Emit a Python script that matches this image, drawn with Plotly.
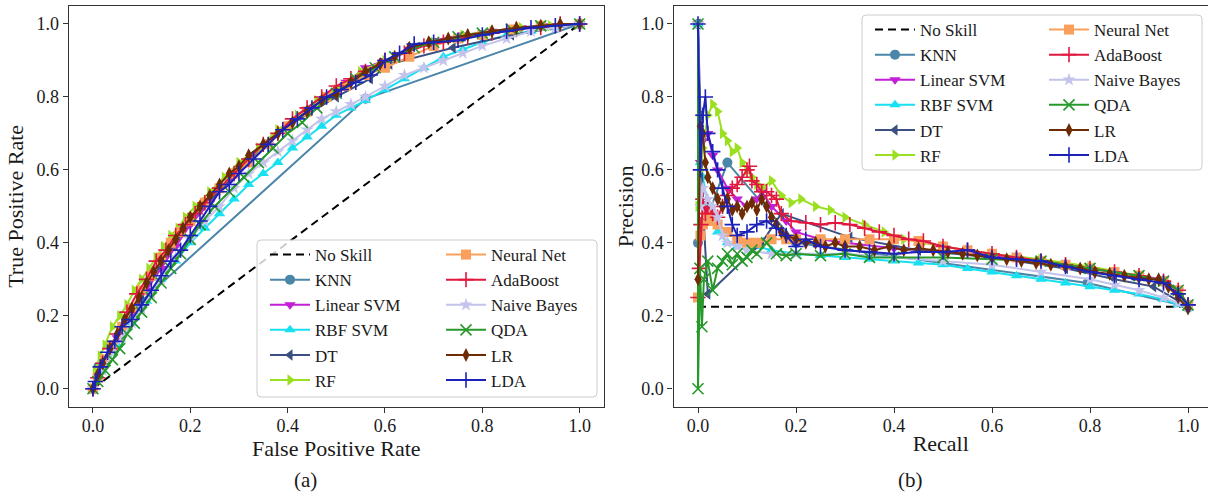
import plotly.graph_objects as go

# ---------------- data ----------------
names = ["KNN", "Linear SVM", "RBF SVM", "DT", "RF", "Neural Net",
         "AdaBoost", "Naive Bayes", "QDA", "LR", "LDA"]

noskill_roc_x = [0.0, 1.0]
noskill_roc_y = [0.0, 1.0]
noskill_pr_x = [0.0, 1.0]
noskill_pr_y = [0.225, 0.225]

# ROC curves (false positive rate, true positive rate)
knn_fpr = [0.0, 0.011, 0.10, 0.56, 1.0]
knn_tpr = [0.0, 0.06, 0.24, 0.795, 1.0]

lsvm_fpr = [0.0, 0.02, 0.05, 0.08, 0.11, 0.14, 0.17, 0.2, 0.24, 0.28, 0.32, 0.36, 0.4, 0.44, 0.48, 0.52, 0.56, 0.6, 0.65, 0.7, 0.76, 0.82, 0.88, 0.94, 1.0]
lsvm_tpr = [0.0, 0.06, 0.14, 0.21, 0.27, 0.33, 0.39, 0.45, 0.51, 0.57, 0.62, 0.67, 0.72, 0.76, 0.8, 0.84, 0.88, 0.9, 0.93, 0.955, 0.97, 0.98, 0.99, 0.995, 1.0]

rbf_fpr = [0.0, 0.02, 0.05, 0.08, 0.11, 0.14, 0.17, 0.2, 0.23, 0.26, 0.29, 0.32, 0.35, 0.38, 0.41, 0.44, 0.47, 0.5, 0.53, 0.56, 0.6, 0.64, 0.68, 0.72, 0.76, 0.8, 0.85, 0.9, 0.95, 1.0]
rbf_tpr = [0.0, 0.05, 0.12, 0.18, 0.24, 0.3, 0.35, 0.4, 0.44, 0.48, 0.52, 0.56, 0.59, 0.62, 0.66, 0.69, 0.72, 0.75, 0.77, 0.79, 0.82, 0.85, 0.88, 0.91, 0.93, 0.95, 0.97, 0.98, 0.99, 1.0]

dt_fpr = [0.0, 0.02, 0.1, 0.2, 0.3, 0.4, 0.5, 0.57, 0.61, 0.74, 0.86, 1.0]
dt_tpr = [0.0, 0.07, 0.26, 0.46, 0.6, 0.72, 0.8, 0.85, 0.89, 0.935, 0.97, 1.0]

rf_fpr = [0.0, 0.005, 0.015, 0.025, 0.04, 0.055, 0.07, 0.085, 0.1, 0.115, 0.13, 0.145, 0.16, 0.175, 0.19, 0.21, 0.24, 0.27, 0.3, 0.34, 0.38, 0.42, 0.46, 0.5, 0.55, 0.6, 0.65, 0.7, 0.76, 0.82, 0.88, 0.94, 1.0]
rf_tpr = [0.0, 0.05, 0.09, 0.12, 0.17, 0.2, 0.23, 0.27, 0.3, 0.33, 0.36, 0.39, 0.42, 0.44, 0.47, 0.5, 0.54, 0.58, 0.62, 0.66, 0.71, 0.75, 0.79, 0.82, 0.87, 0.9, 0.93, 0.95, 0.97, 0.98, 0.99, 0.995, 1.0]

nn_fpr = [0.0, 0.01, 0.025, 0.04, 0.06, 0.08, 0.1, 0.12, 0.14, 0.16, 0.18, 0.2, 0.23, 0.26, 0.29, 0.32, 0.36, 0.4, 0.44, 0.48, 0.52, 0.56, 0.6, 0.65, 0.7, 0.75, 0.8, 0.86, 0.92, 1.0]
nn_tpr = [0.0, 0.03, 0.08, 0.12, 0.17, 0.22, 0.27, 0.31, 0.36, 0.4, 0.43, 0.46, 0.51, 0.55, 0.59, 0.62, 0.67, 0.72, 0.76, 0.8, 0.83, 0.86, 0.88, 0.91, 0.94, 0.96, 0.97, 0.985, 0.995, 1.0]

ada_fpr = [0.0, 0.01, 0.02, 0.035, 0.05, 0.07, 0.09, 0.11, 0.13, 0.15, 0.17, 0.19, 0.21, 0.23, 0.26, 0.29, 0.32, 0.35, 0.38, 0.41, 0.44, 0.47, 0.5, 0.53, 0.56, 0.6, 0.64, 0.68, 0.72, 0.77, 0.82, 0.87, 0.92, 0.96, 1.0]
ada_tpr = [0.0, 0.03, 0.07, 0.11, 0.15, 0.21, 0.26, 0.3, 0.35, 0.38, 0.42, 0.45, 0.48, 0.51, 0.55, 0.59, 0.63, 0.67, 0.7, 0.74, 0.77, 0.8, 0.83, 0.85, 0.87, 0.9, 0.92, 0.94, 0.95, 0.965, 0.975, 0.985, 0.99, 1.0, 1.0]

nb_fpr = [0.0, 0.02, 0.04, 0.06, 0.08, 0.1, 0.12, 0.14, 0.17, 0.2, 0.23, 0.26, 0.29, 0.32, 0.35, 0.38, 0.41, 0.44, 0.47, 0.5, 0.53, 0.56, 0.6, 0.64, 0.68, 0.72, 0.76, 0.8, 0.85, 0.9, 0.95, 1.0]
nb_tpr = [0.0, 0.05, 0.1, 0.14, 0.18, 0.22, 0.26, 0.3, 0.36, 0.41, 0.46, 0.5, 0.55, 0.59, 0.62, 0.65, 0.68, 0.71, 0.74, 0.76, 0.78, 0.8, 0.83, 0.86, 0.88, 0.9, 0.92, 0.94, 0.96, 0.98, 0.99, 1.0]

qda_fpr = [0.0, 0.01, 0.025, 0.04, 0.055, 0.07, 0.085, 0.1, 0.12, 0.14, 0.16, 0.18, 0.2, 0.22, 0.25, 0.28, 0.31, 0.34, 0.37, 0.4, 0.43, 0.46, 0.5, 0.54, 0.58, 0.62, 0.66, 0.7, 0.75, 0.8, 0.86, 0.92, 1.0]
qda_tpr = [0.0, 0.02, 0.05, 0.08, 0.11, 0.15, 0.18, 0.21, 0.25, 0.29, 0.33, 0.37, 0.41, 0.45, 0.5, 0.54, 0.58, 0.62, 0.66, 0.7, 0.73, 0.77, 0.81, 0.85, 0.88, 0.91, 0.935, 0.95, 0.965, 0.975, 0.985, 0.995, 1.0]

lr_fpr = [0.0, 0.01, 0.02, 0.035, 0.05, 0.065, 0.08, 0.095, 0.11, 0.125, 0.14, 0.155, 0.17, 0.185, 0.2, 0.22, 0.24, 0.26, 0.28, 0.3, 0.32, 0.35, 0.38, 0.41, 0.44, 0.47, 0.5, 0.53, 0.56, 0.59, 0.62, 0.65, 0.69, 0.73, 0.77, 0.82, 0.87, 0.92, 0.96, 1.0]
lr_tpr = [0.0, 0.04, 0.07, 0.11, 0.15, 0.19, 0.22, 0.25, 0.29, 0.32, 0.35, 0.38, 0.41, 0.44, 0.47, 0.5, 0.53, 0.56, 0.59, 0.61, 0.64, 0.67, 0.7, 0.73, 0.76, 0.79, 0.81, 0.84, 0.87, 0.89, 0.91, 0.935, 0.95, 0.96, 0.97, 0.98, 0.99, 0.995, 1.0, 1.0]

lda_fpr = [0.0, 0.005, 0.015, 0.03, 0.045, 0.06, 0.08, 0.1, 0.12, 0.14, 0.16, 0.18, 0.2, 0.22, 0.24, 0.26, 0.28, 0.3, 0.33, 0.36, 0.39, 0.42, 0.45, 0.48, 0.51, 0.54, 0.57, 0.6, 0.63, 0.66, 0.7, 0.75, 0.8, 0.85, 0.9, 0.95, 1.0]
lda_tpr = [0.0, 0.02, 0.06, 0.1, 0.13, 0.17, 0.19, 0.23, 0.27, 0.31, 0.35, 0.38, 0.42, 0.46, 0.5, 0.54, 0.56, 0.59, 0.63, 0.67, 0.71, 0.74, 0.77, 0.8, 0.82, 0.84, 0.86, 0.9, 0.92, 0.945, 0.95, 0.955, 0.97, 0.98, 0.99, 0.995, 1.0]

# Precision-recall curves (recall, precision)
knn_rec = [0.0, 0.0, 0.06, 0.2, 0.795, 1.0]
knn_prec = [1.0, 0.4, 0.62, 0.40, 0.29, 0.225]

lsvm_rec = [0.0, 0.005, 0.01, 0.02, 0.03, 0.04, 0.06, 0.08, 0.1, 0.12, 0.13, 0.15, 0.18, 0.2, 0.25, 0.3, 0.4, 0.5, 0.6, 0.7, 0.8, 0.9, 0.95, 0.98, 1.0]
lsvm_prec = [1.0, 0.62, 0.68, 0.7, 0.64, 0.6, 0.55, 0.52, 0.5, 0.52, 0.54, 0.5, 0.46, 0.43, 0.41, 0.4, 0.385, 0.375, 0.365, 0.35, 0.33, 0.31, 0.3, 0.27, 0.23]

rbf_rec = [0.0, 0.005, 0.01, 0.02, 0.03, 0.04, 0.06, 0.08, 0.1, 0.12, 0.15, 0.2, 0.25, 0.3, 0.35, 0.4, 0.45, 0.5, 0.55, 0.6, 0.65, 0.7, 0.75, 0.8, 0.85, 0.9, 0.95, 0.98, 1.0]
rbf_prec = [1.0, 0.62, 0.58, 0.5, 0.46, 0.43, 0.4, 0.39, 0.4, 0.39, 0.38, 0.37, 0.365, 0.36, 0.355, 0.35, 0.345, 0.34, 0.33, 0.32, 0.31, 0.3, 0.29, 0.28, 0.27, 0.26, 0.245, 0.23, 0.22]

dt_rec = [0.0, 0.005, 0.01, 0.02, 0.13, 0.17, 0.31, 0.45, 0.6, 0.75, 0.85, 0.93, 1.0]
dt_prec = [1.0, 0.75, 0.5, 0.26, 0.40, 0.48, 0.415, 0.38, 0.36, 0.33, 0.30, 0.28, 0.225]

rf_rec = [0.0, 0.005, 0.01, 0.02, 0.03, 0.04, 0.05, 0.06, 0.07, 0.08, 0.09, 0.1, 0.11, 0.12, 0.13, 0.15, 0.17, 0.19, 0.21, 0.24, 0.27, 0.3, 0.34, 0.38, 0.42, 0.46, 0.5, 0.55, 0.6, 0.7, 0.8, 0.9, 0.95, 1.0]
rf_prec = [0.5, 0.6, 0.66, 0.75, 0.78, 0.76, 0.7, 0.68, 0.65, 0.66, 0.62, 0.6, 0.58, 0.56, 0.55, 0.57, 0.53, 0.51, 0.52, 0.5, 0.49, 0.47, 0.45, 0.43, 0.41, 0.4, 0.39, 0.38, 0.37, 0.355, 0.335, 0.31, 0.295, 0.225]

nn_rec = [0.0, 0.005, 0.01, 0.02, 0.03, 0.04, 0.06, 0.08, 0.1, 0.12, 0.15, 0.18, 0.2, 0.25, 0.3, 0.35, 0.4, 0.45, 0.5, 0.55, 0.6, 0.65, 0.7, 0.75, 0.8, 0.85, 0.9, 0.95, 0.98, 1.0]
nn_prec = [0.25, 0.42, 0.45, 0.48, 0.46, 0.45, 0.43, 0.41, 0.4, 0.4, 0.41, 0.41, 0.41, 0.41, 0.41, 0.41, 0.41, 0.405, 0.39, 0.38, 0.37, 0.36, 0.35, 0.34, 0.33, 0.32, 0.31, 0.295, 0.27, 0.23]

ada_rec = [0.0, 0.003, 0.006, 0.01, 0.015, 0.02, 0.03, 0.04, 0.05, 0.06, 0.07, 0.08, 0.09, 0.1, 0.105, 0.11, 0.12, 0.13, 0.14, 0.15, 0.16, 0.17, 0.19, 0.22, 0.25, 0.28, 0.31, 0.34, 0.37, 0.4, 0.43, 0.46, 0.5, 0.55, 0.6, 0.65, 0.7, 0.75, 0.8, 0.85, 0.9, 0.95, 0.98, 1.0]
ada_prec = [0.25, 0.33, 0.45, 0.52, 0.48, 0.5, 0.48, 0.47, 0.5, 0.53, 0.55, 0.56, 0.58, 0.6, 0.61, 0.57, 0.56, 0.54, 0.54, 0.53, 0.52, 0.48, 0.46, 0.455, 0.45, 0.455, 0.45, 0.44, 0.43, 0.42, 0.41, 0.405, 0.39, 0.38, 0.37, 0.36, 0.35, 0.34, 0.33, 0.32, 0.31, 0.295, 0.27, 0.23]

nb_rec = [0.0, 0.005, 0.01, 0.02, 0.03, 0.04, 0.05, 0.06, 0.08, 0.1, 0.15, 0.2, 0.3, 0.4, 0.5, 0.6, 0.7, 0.8, 0.85, 0.9, 0.95, 0.98, 1.0]
nb_prec = [1.0, 0.5, 0.55, 0.52, 0.5, 0.47, 0.42, 0.4, 0.39, 0.38, 0.37, 0.37, 0.37, 0.36, 0.35, 0.34, 0.32, 0.3, 0.285, 0.27, 0.25, 0.235, 0.225]

qda_rec = [0.0, 0.0, 0.004, 0.008, 0.012, 0.02, 0.03, 0.04, 0.05, 0.06, 0.07, 0.08, 0.09, 0.1, 0.11, 0.12, 0.14, 0.16, 0.18, 0.2, 0.25, 0.3, 0.35, 0.4, 0.5, 0.6, 0.7, 0.8, 0.9, 0.95, 0.98, 1.0]
qda_prec = [1.0, 0.0, 0.33, 0.17, 0.3, 0.35, 0.27, 0.33, 0.35, 0.37, 0.34, 0.37, 0.35, 0.36, 0.38, 0.37, 0.4, 0.37, 0.365, 0.37, 0.365, 0.37, 0.36, 0.36, 0.36, 0.355, 0.35, 0.33, 0.31, 0.295, 0.27, 0.23]

lr_rec = [0.0, 0.005, 0.01, 0.015, 0.02, 0.03, 0.04, 0.05, 0.06, 0.07, 0.08, 0.09, 0.1, 0.11, 0.12, 0.13, 0.14, 0.15, 0.16, 0.17, 0.18, 0.2, 0.22, 0.24, 0.26, 0.28, 0.3, 0.33, 0.36, 0.39, 0.42, 0.45, 0.48, 0.51, 0.54, 0.57, 0.6, 0.63, 0.66, 0.69, 0.72, 0.75, 0.78, 0.81, 0.84, 0.87, 0.9, 0.92, 0.94, 0.96, 0.98, 1.0]
lr_prec = [0.3, 0.72, 0.7, 0.62, 0.58, 0.55, 0.52, 0.5, 0.52, 0.49, 0.5, 0.48, 0.5, 0.51, 0.49, 0.52, 0.5, 0.47, 0.45, 0.43, 0.42, 0.41, 0.4, 0.4, 0.39, 0.4, 0.39, 0.39, 0.38, 0.39, 0.38, 0.385, 0.38, 0.375, 0.37, 0.365, 0.36, 0.355, 0.35, 0.345, 0.34, 0.335, 0.33, 0.32, 0.315, 0.31, 0.305, 0.3, 0.3, 0.28, 0.25, 0.22]

lda_rec = [0.0, 0.005, 0.01, 0.015, 0.02, 0.03, 0.04, 0.05, 0.06, 0.07, 0.08, 0.1, 0.12, 0.14, 0.16, 0.18, 0.2, 0.22, 0.25, 0.3, 0.35, 0.4, 0.45, 0.5, 0.55, 0.6, 0.65, 0.7, 0.75, 0.8, 0.85, 0.9, 0.95, 0.98, 1.0]
lda_prec = [1.0, 0.6, 0.75, 0.8, 0.7, 0.65, 0.6, 0.55, 0.5, 0.45, 0.42, 0.43, 0.45, 0.46, 0.44, 0.42, 0.39, 0.41, 0.39, 0.38, 0.375, 0.37, 0.375, 0.375, 0.38, 0.36, 0.355, 0.35, 0.335, 0.32, 0.31, 0.30, 0.29, 0.26, 0.23]

# ---------------- styles ----------------
colors = ["#4a86a8", "#c21fd6", "#17e0f0", "#3b4f80", "#9be020", "#f9a05c",
          "#e0173f", "#c3c3eb", "#26992a", "#6e2c05", "#1c22b8"]
symbols = ["circle", "triangle-down", "triangle-up", "triangle-left", "triangle-right",
           "square", "cross-thin", "star", "x-thin", "diamond-tall", "cross-thin"]

roc_data = [(knn_fpr, knn_tpr), (lsvm_fpr, lsvm_tpr), (rbf_fpr, rbf_tpr), (dt_fpr, dt_tpr),
            (rf_fpr, rf_tpr), (nn_fpr, nn_tpr), (ada_fpr, ada_tpr), (nb_fpr, nb_tpr),
            (qda_fpr, qda_tpr), (lr_fpr, lr_tpr), (lda_fpr, lda_tpr)]
pr_data = [(knn_rec, knn_prec), (lsvm_rec, lsvm_prec), (rbf_rec, rbf_prec), (dt_rec, dt_prec),
           (rf_rec, rf_prec), (nn_rec, nn_prec), (ada_rec, ada_prec), (nb_rec, nb_prec),
           (qda_rec, qda_prec), (lr_rec, lr_prec), (lda_rec, lda_prec)]

FONT = "Liberation Serif, Times New Roman, serif"
TXT = "#1a1a1a"
W, H = 1208, 496

fig = go.Figure()

def add_curve(x, y, name, color, symbol, xa, ya, legend, group):
    thin = symbol.endswith("-thin")
    fig.add_trace(go.Scatter(
        x=x, y=y, name=name, mode="lines+markers", xaxis=xa, yaxis=ya,
        legend=legend, legendgroup=group,
        line=dict(color=color, width=2),
        marker=dict(symbol=symbol, size=11 if thin else 10, color=color,
                    line=dict(color=color, width=1.6 if thin else 0)),
    ))

# Left panel (ROC)
fig.add_trace(go.Scatter(x=noskill_roc_x, y=noskill_roc_y, name="No Skill", mode="lines",
                         xaxis="x", yaxis="y", legend="legend", legendgroup="a_ns",
                         line=dict(color="black", width=2, dash="8px,5px")))
for i, n in enumerate(names):
    lg = "legend" if i < 5 else "legend2"
    add_curve(roc_data[i][0], roc_data[i][1], n, colors[i], symbols[i], "x", "y", lg, "a_" + n)

# Right panel (PR)
fig.add_trace(go.Scatter(x=noskill_pr_x, y=noskill_pr_y, name="No Skill", mode="lines",
                         xaxis="x2", yaxis="y2", legend="legend3", legendgroup="b_ns",
                         line=dict(color="black", width=2, dash="8px,5px")))
for i, n in enumerate(names):
    lg = "legend3" if i < 5 else "legend4"
    add_curve(pr_data[i][0], pr_data[i][1], n, colors[i], symbols[i], "x2", "y2", lg, "b_" + n)

# ---------------- layout ----------------
ydom = [(H - 407) / H, (H - 5.75) / H]
tickvals = [0.0, 0.2, 0.4, 0.6, 0.8, 1.0]
ticktext = ["0.0", "0.2", "0.4", "0.6", "0.8", "1.0"]

def axis(domain, rng, title, mirror, anchor, standoff, tls=0):
    return dict(domain=domain, range=rng, anchor=anchor, showgrid=False, zeroline=False,
                showline=True, linecolor="#333", linewidth=1.2, mirror=mirror,
                ticks="outside", ticklen=5, tickwidth=1.1, tickcolor="#333",
                tickvals=tickvals, ticktext=ticktext, ticklabelstandoff=tls,
                tickfont=dict(family=FONT, size=18, color=TXT),
                title=dict(text=title, font=dict(family=FONT, size=22, color=TXT), standoff=standoff))

legend_common = dict(bgcolor="rgba(0,0,0,0)", borderwidth=0, itemwidth=40,
                     traceorder="grouped", tracegroupgap=0,
                     font=dict(family=FONT, size=17, color=TXT),
                     xanchor="left", yanchor="top", itemclick=False, itemdoubleclick=False)

fig.update_layout(
    width=W, height=H, autosize=False,
    font=dict(family=FONT, color=TXT),
    margin=dict(l=0, r=0, t=0, b=0),
    paper_bgcolor="white", plot_bgcolor="white",
    xaxis=axis([68.6 / W, 604 / W], [-0.05, 1.05], "False Positive Rate", True, "y", 0, -3),
    yaxis=axis(ydom, [-0.05, 1.05], "True Positive Rate", True, "x", 6),
    xaxis2=axis([673.5 / W, 1.0], [-0.05, 1.0408], "Recall", True, "y2", 0, -3),
    yaxis2=axis(ydom, [-0.05, 1.05], "Precision", False, "x2", 1),
    legend=dict(x=265 / W, y=(H - 237) / H, **legend_common),
    legend2=dict(x=441 / W, y=(H - 237) / H, **legend_common),
    legend3=dict(x=870 / W, y=(H - 12) / H, **legend_common),
    legend4=dict(x=1044 / W, y=(H - 12) / H, **legend_common),
    showlegend=True,
)

def rounded_box(x0, y0, x1, y1, r=4):
    px = lambda v: v / W
    py = lambda v: (H - v) / H
    return (f"M {px(x0 + r)},{py(y0)} L {px(x1 - r)},{py(y0)} Q {px(x1)},{py(y0)} {px(x1)},{py(y0 + r)} "
            f"L {px(x1)},{py(y1 - r)} Q {px(x1)},{py(y1)} {px(x1 - r)},{py(y1)} "
            f"L {px(x0 + r)},{py(y1)} Q {px(x0)},{py(y1)} {px(x0)},{py(y1 - r)} "
            f"L {px(x0)},{py(y0 + r)} Q {px(x0)},{py(y0)} {px(x0 + r)},{py(y0)} Z")

for box in [(257, 240, 597, 397), (862, 15, 1202, 170)]:
    fig.add_shape(type="path", path=rounded_box(*box), xref="paper", yref="paper",
                  fillcolor="rgba(255,255,255,0.8)", line=dict(color="#cccccc", width=1),
                  layer="above")

fig.add_annotation(text="(a)", x=305 / W, y=(H - 480) / H, xref="paper", yref="paper",
                   xanchor="center", yanchor="middle",
                   showarrow=False, font=dict(family=FONT, size=21, color=TXT))
fig.add_annotation(text="(b)", x=910 / W, y=(H - 480) / H, xref="paper", yref="paper",
                   xanchor="center", yanchor="middle",
                   showarrow=False, font=dict(family=FONT, size=21, color=TXT))

fig.write_html("out.html")
